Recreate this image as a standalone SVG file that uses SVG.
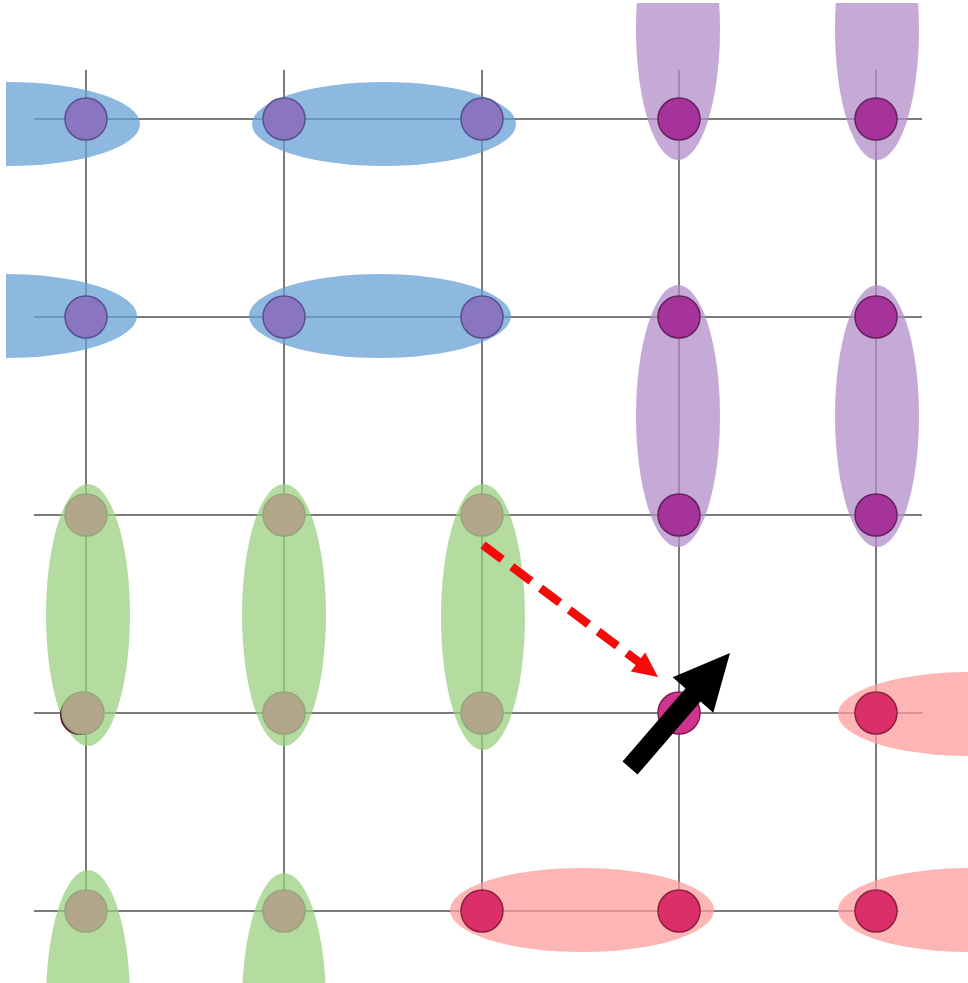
<svg xmlns="http://www.w3.org/2000/svg" width="968" height="983" viewBox="0 0 968 983">
<style>
.grid{stroke:#7a7a7a;stroke-width:2;fill:none}
.eb{fill:#67a0d6;opacity:0.75}
.ep{fill:#b28cca;opacity:0.75}
.eg{fill:#9bcf80;opacity:0.75}
.er{fill:#fc9c9c;opacity:0.75}
.nb{fill:#8a76c0;stroke:#58508f;stroke-width:1.5}
.np{fill:#a6339a;stroke:#66205c;stroke-width:1.5}
.ng{fill:#b3a78b;stroke:#97a57c;stroke-width:1.5}
.nr{fill:#dc2f69;stroke:#8c2040;stroke-width:1.5}
</style>
<defs>
<clipPath id="c"><rect x="6" y="3" width="962" height="980"/></clipPath>
</defs>
<rect width="968" height="983" fill="#fff"/>
<g id="grid" class="grid">
<line x1="86" y1="70" x2="86" y2="911"/>
<line x1="284" y1="70" x2="284" y2="911"/>
<line x1="482" y1="70" x2="482" y2="911"/>
<line x1="679" y1="70" x2="679" y2="911"/>
<line x1="876" y1="70" x2="876" y2="911"/>
<line x1="34" y1="119" x2="922" y2="119"/>
<line x1="34" y1="317" x2="922" y2="317"/>
<line x1="34" y1="515" x2="922" y2="515"/>
<line x1="34" y1="713" x2="923" y2="713"/>
<line x1="34" y1="911" x2="899" y2="911"/>
</g>
<g id="groups" clip-path="url(#c)">
<ellipse class="eb" cx="8" cy="124" rx="132" ry="42"/>
<ellipse class="eb" cx="384" cy="124" rx="132" ry="42"/>
<ellipse class="eb" cx="5" cy="316" rx="132" ry="42"/>
<ellipse class="eb" cx="380" cy="316" rx="131" ry="42"/>
<ellipse class="ep" cx="678" cy="29" rx="42" ry="131"/>
<ellipse class="ep" cx="877" cy="29" rx="42" ry="131"/>
<ellipse class="ep" cx="678" cy="416" rx="42" ry="131"/>
<ellipse class="ep" cx="877" cy="416" rx="42" ry="131"/>
<ellipse class="eg" cx="88" cy="615" rx="42" ry="131"/>
<ellipse class="eg" cx="284" cy="615" rx="42" ry="131"/>
<ellipse class="eg" cx="483" cy="617" rx="42" ry="133"/>
<ellipse class="eg" cx="88" cy="1001" rx="42" ry="131"/>
<ellipse class="eg" cx="284" cy="1004" rx="42" ry="131"/>
<ellipse class="er" cx="970" cy="714" rx="132" ry="42"/>
<ellipse class="er" cx="582" cy="910" rx="132" ry="42"/>
<ellipse class="er" cx="970" cy="910" rx="132" ry="42"/>
</g>
<g id="nodes">
<g id="n11"><circle class="nb" cx="86" cy="119" r="21"/></g>
<g id="n12"><circle class="nb" cx="284" cy="119" r="21"/></g>
<g id="n13"><circle class="nb" cx="482" cy="119" r="21"/></g>
<g id="n14"><circle class="np" cx="679" cy="119" r="21"/></g>
<g id="n15"><circle class="np" cx="876" cy="119" r="21"/></g>
<g id="n21"><circle class="nb" cx="86" cy="317" r="21"/></g>
<g id="n22"><circle class="nb" cx="284" cy="317" r="21"/></g>
<g id="n23"><circle class="nb" cx="482" cy="317" r="21"/></g>
<g id="n24"><circle class="np" cx="679" cy="317" r="21"/></g>
<g id="n25"><circle class="np" cx="876" cy="317" r="21"/></g>
<g id="n31"><circle class="ng" cx="86" cy="515" r="21"/></g>
<g id="n32"><circle class="ng" cx="284" cy="515" r="21"/></g>
<g id="n33"><circle class="ng" cx="482" cy="515" r="21"/></g>
<g id="n34"><circle class="np" cx="679" cy="515" r="21"/></g>
<g id="n35"><circle class="np" cx="876" cy="515" r="21"/></g>
<g id="n41"><circle cx="80" cy="715" r="20" fill="#5a1a35"/><circle class="ng" cx="83" cy="713" r="21"/></g>
<g id="n42"><circle class="ng" cx="284" cy="713" r="21"/></g>
<g id="n43"><circle class="ng" cx="482" cy="713" r="21"/></g>
<g id="n44"><circle cx="679" cy="713" r="21" fill="#cd358c" stroke="#861c4f" stroke-width="1.5"/></g>
<g id="n45"><circle class="nr" cx="876" cy="713" r="21"/></g>
<g id="n51"><circle class="ng" cx="86" cy="911" r="21"/></g>
<g id="n52"><circle class="ng" cx="284" cy="911" r="21"/></g>
<g id="n53"><circle class="nr" cx="482" cy="911" r="21"/></g>
<g id="n54"><circle class="nr" cx="679" cy="911" r="21"/></g>
<g id="n55"><circle class="nr" cx="876" cy="911" r="21"/></g>
</g>
<g id="connectors">
<line x1="483" y1="545" x2="640" y2="663" stroke="#f50a0a" stroke-width="8.5" stroke-dasharray="24 12"/>
<polygon points="658,677 630.8,671.6 645.2,652.4" fill="#f50a0a"/>
<path d="M622.5,761.4 L685.5,688.4 L672.7,677.2 L730,653 L713.3,712.8 L700.5,701.6 L637.5,774.6 Z" fill="#000"/>
</g>
</svg>
